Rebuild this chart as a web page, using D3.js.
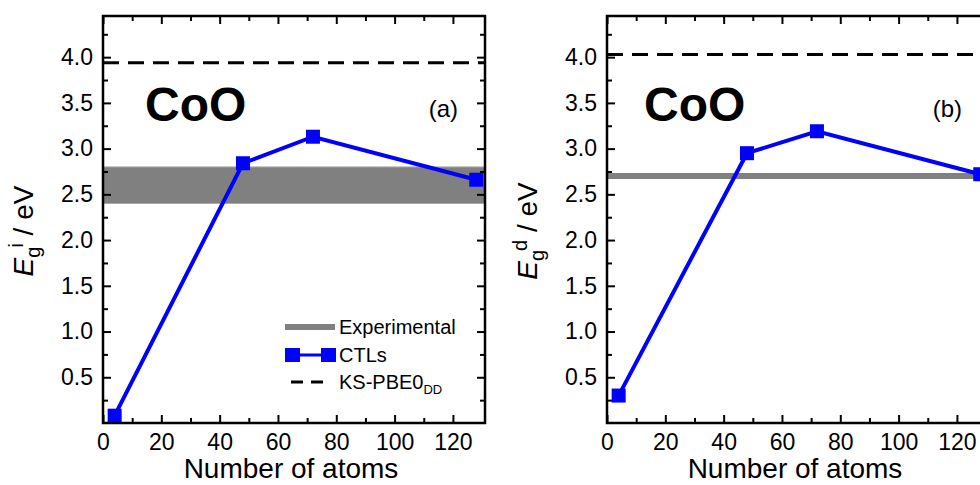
<!DOCTYPE html>
<html>
  <head>
    <meta charset="utf-8">
    <title>CoO band gaps</title>
    <style>
      body { margin: 0; background: #fff; }
      svg { display: block; font-family: "Liberation Sans", Arial, sans-serif; }
      .tick text { font-size: 23px; fill: #000; }
      .tick line { stroke: #000; stroke-width: 2; }
    </style>
    <script src="https://cdnjs.cloudflare.com/ajax/libs/d3/7.8.5/d3.min.js"></script>
  </head>
  <body>
    <div id="chart"></div>
    <script>
    // values
    var atoms = [4, 48, 72, 128];
    var ctlIndirect = [0.08, 2.84, 3.13, 2.66];
    var ctlDirect = [0.30, 2.95, 3.19, 2.72];
    var expIndirect = [2.4, 2.8];     // band, low / high
    var expDirect = [2.7, 2.7];       // single line
    var ksIndirect = 3.94;
    var ksDirect = 4.03;
    var xTicks = [0, 20, 40, 60, 80, 100, 120];
    var xMinor = [10, 30, 50, 70, 90, 110];
    var yTicks = [0.5, 1.0, 1.5, 2.0, 2.5, 3.0, 3.5, 4.0];
    var yMinor = [0.25, 0.75, 1.25, 1.75, 2.25, 2.75, 3.25, 3.75, 4.25];
    var legendItems = ['Experimental', 'CTLs', 'KS-PBE0'];

    var W = 382, H = 407;
    var blue = '#0000ff', grey = '#808080';

    var svg = d3.select('#chart').append('svg').attr('width', 980).attr('height', 485);

    function panel(left, ctl, exp, ks, sup, tag, coLeft, showLegend) {
      var g = svg.append('g').attr('transform', 'translate(' + left + ',16)');
      var x = d3.scaleLinear().domain([0, 131]).range([0, W]);
      var y = d3.scaleLinear().domain([0, 4.45]).range([H, 0]);

      // experimental
      if (exp[0] === exp[1]) {
        g.append('line').attr('x1', 0).attr('x2', W)
          .attr('y1', y(exp[0])).attr('y2', y(exp[0]))
          .style('stroke', grey).style('stroke-width', 6);
      } else {
        g.append('rect').attr('x', 0).attr('width', W)
          .attr('y', y(exp[1])).attr('height', y(exp[0]) - y(exp[1]))
          .style('fill', grey).style('stroke', '#aaa').style('stroke-width', 1);
      }

      // KS-PBE0 dashed
      g.append('line').attr('x1', 0).attr('x2', W)
        .attr('y1', y(ks)).attr('y2', y(ks))
        .style('stroke', '#000').style('stroke-width', 3).style('stroke-dasharray', '16,9');

      // CTLs
      var pts = atoms.map(function(a, i) { return [a, ctl[i]]; });
      g.append('path').datum(pts)
        .attr('d', d3.line().x(function(d) { return x(d[0]); }).y(function(d) { return y(d[1]); }))
        .style('fill', 'none').style('stroke', blue).style('stroke-width', 4);
      g.selectAll('.mk').data(pts).enter().append('rect').attr('class', 'mk')
        .attr('x', function(d) { return x(d[0]) - 7; })
        .attr('y', function(d) { return y(d[1]) - 7; })
        .attr('width', 14).attr('height', 14)
        .style('fill', blue);

      // axes, ticks pointing inward on all sides
      g.append('g').attr('transform', 'translate(0,' + H + ')')
        .call(d3.axisBottom(x).tickValues(xTicks).tickSize(-8).tickPadding(11).tickFormat(d3.format('d')));
      g.append('g').attr('transform', 'translate(0,' + H + ')')
        .call(d3.axisBottom(x).tickValues(xMinor).tickSize(-5).tickFormat(''));
      g.append('g')
        .call(d3.axisTop(x).tickValues(xTicks).tickSize(-8).tickFormat(''));
      g.append('g')
        .call(d3.axisTop(x).tickValues(xMinor).tickSize(-5).tickFormat(''));
      g.append('g')
        .call(d3.axisLeft(y).tickValues(yTicks).tickSize(-8).tickPadding(10).tickFormat(d3.format('.1f')));
      g.append('g')
        .call(d3.axisLeft(y).tickValues(yMinor).tickSize(-5).tickFormat(''));
      g.append('g').attr('transform', 'translate(' + W + ',0)')
        .call(d3.axisRight(y).tickValues(yTicks).tickSize(-8).tickFormat(''));
      g.append('g').attr('transform', 'translate(' + W + ',0)')
        .call(d3.axisRight(y).tickValues(yMinor).tickSize(-5).tickFormat(''));
      g.selectAll('.domain').remove();

      g.append('rect').attr('width', W).attr('height', H)
        .style('fill', 'none').style('stroke', '#000').style('stroke-width', 2.5);

      // labels
      g.append('text').attr('x', W / 2 - 3).attr('y', 462)
        .attr('text-anchor', 'middle').style('font-size', '28px')
        .text('Number of atoms');

      var yl = g.append('text')
        .attr('transform', 'translate(-70,' + 215 + ') rotate(-90)')
        .attr('text-anchor', 'middle').style('font-size', '28px');
      yl.append('tspan').style('font-style', 'italic').text('E');
      yl.append('tspan').attr('dy', 7).style('font-size', '20px').text('g');
      yl.append('tspan').attr('dy', -17).attr('dx', -1).style('font-size', '20px').text(sup);
      yl.append('tspan').attr('dy', 10).text(' / eV');

      g.append('text').attr('x', coLeft).attr('y', 105)
        .style('font-size', '48px').style('font-weight', 'bold').text('CoO');
      g.append('text').attr('x', W - 27).attr('y', 101)
        .attr('text-anchor', 'end').style('font-size', '24px').text(tag);

      if (showLegend) {
        var lg = g.append('g').attr('transform', 'translate(182,311)');
        lg.append('line').attr('x1', 0).attr('x2', 50).attr('y1', 0).attr('y2', 0)
          .style('stroke', grey).style('stroke-width', 6);
        lg.append('line').attr('x1', 7).attr('x2', 43).attr('y1', 28).attr('y2', 28)
          .style('stroke', blue).style('stroke-width', 3);
        lg.selectAll('.lm').data([7, 43]).enter().append('rect')
          .attr('x', function(d) { return d - 7; }).attr('y', 21)
          .attr('width', 15).attr('height', 14).style('fill', blue);
        lg.append('line').attr('x1', 6).attr('x2', 40).attr('y1', 55).attr('y2', 55)
          .style('stroke', '#000').style('stroke-width', 3).style('stroke-dasharray', '12,8');
        lg.selectAll('.lt').data(legendItems).enter().append('text')
          .attr('x', 54).attr('y', function(d, i) { return 7 + i * 27.5; })
          .style('font-size', '20px')
          .text(function(d) { return d; });
        lg.select('text:last-of-type').append('tspan').attr('dy', 5)
          .style('font-size', '13px').text('DD');
      }
    }

    panel(103, ctlIndirect, expIndirect, ksIndirect, 'i', '(a)', 42, true);
    panel(607, ctlDirect, expDirect, ksDirect, 'd', '(b)', 37, false);
    </script>
  </body>
</html>
